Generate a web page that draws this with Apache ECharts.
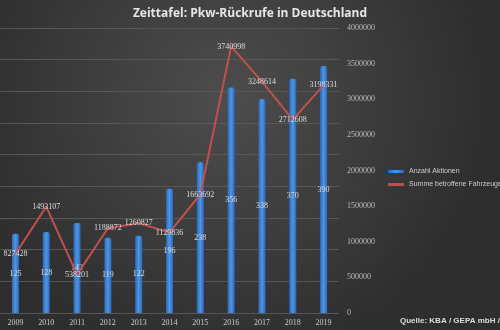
<!DOCTYPE html>
<html><head><meta charset="utf-8">
<script src="https://cdn.jsdelivr.net/npm/echarts@6/dist/echarts.min.js"></script>
<style>html,body{margin:0;padding:0;background:#3a3a3a;}#c{width:500px;height:330px;}</style>
</head><body><div id="c"></div>
<script>
const years = ['2009','2010','2011','2012','2013','2014','2015','2016','2017','2018','2019'];
const aktionen = [125,128,142,119,122,196,238,356,338,370,390];
const fahrzeuge = [827428,1493107,538201,1188872,1260827,1129836,1663692,3740998,3248614,2712608,3198331];
const rightTicks = [0,500000,1000000,1500000,2000000,2500000,3000000,3500000,4000000];

const chart = echarts.init(document.getElementById('c'));
chart.setOption({
  animation:false,
  backgroundColor:{type:'radial',x:0.45,y:0.3,r:0.8,colorStops:[{offset:0,color:'#4d4d4d'},{offset:1,color:'#2e2e2e'}]},
  title:{text:'Zeittafel: Pkw-Rückrufe in Deutschland',left:'center',top:3,
    textStyle:{color:'#e6e6e6',fontSize:12,fontWeight:'bold',fontFamily:'Open Sans'}},
  legend:{orient:'vertical',left:383,top:163,itemGap:6,itemWidth:16,itemHeight:3,
    textStyle:{color:'#cccccc',fontSize:7,fontFamily:'Liberation Sans'},
    data:[{name:'Anzahl Aktionen',icon:'roundRect'},{name:'Summe betroffene Fahrzeuge (Deutschland)',icon:'roundRect'}]},
  grid:{left:-13,right:161,top:28,bottom:17},
  xAxis:{type:'category',data:years,
    axisLine:{show:false},axisTick:{show:false},
    axisLabel:{color:'#cccccc',fontSize:8,margin:6,fontFamily:'Liberation Serif'}},
  yAxis:[
    {type:'value',min:0,max:450,interval:50,show:true,position:'left',
      axisLabel:{show:false},axisLine:{show:false},axisTick:{show:false},
      splitLine:{lineStyle:{color:'#575757',width:1}}},
    {type:'value',min:0,max:4000000,interval:500000,position:'right',
      axisLine:{show:false},axisTick:{show:false},splitLine:{show:false},
      axisLabel:{color:'#bbbbbb',fontSize:8,margin:8,fontFamily:'Liberation Serif',
        formatter:v=>rightTicks.includes(v)?String(v):''}}
  ],
  series:[
    {name:'Anzahl Aktionen',type:'bar',yAxisIndex:0,data:aktionen,barWidth:7,
      itemStyle:{color:{type:'linear',x:0,y:0,x2:1,y2:0,colorStops:[{offset:0,color:'#2a68b8'},{offset:0.5,color:'#4f95e3'},{offset:1,color:'#2a68b8'}]},borderRadius:[2,2,0,0]},
      label:{show:true,position:'inside',color:'#dddddd',fontSize:8,fontFamily:'Liberation Serif'}},
    {name:'Summe betroffene Fahrzeuge (Deutschland)',type:'line',yAxisIndex:1,data:fahrzeuge,
      symbol:'circle',symbolSize:1,showSymbol:true,lineStyle:{color:'#c0504d',width:2},itemStyle:{color:'#c0504d'},
      label:{show:true,position:'inside',color:'#dddddd',fontSize:8,fontFamily:'Liberation Serif'}}
  ],
  graphic:[{type:'text',left:400,top:317,style:{text:'Quelle: KBA / GEPA mbH / Kfz-Rueckrufe.de',fill:'#dddddd',fontSize:8,fontWeight:'bold',fontFamily:'Liberation Sans'}}]
});
</script></body></html>
